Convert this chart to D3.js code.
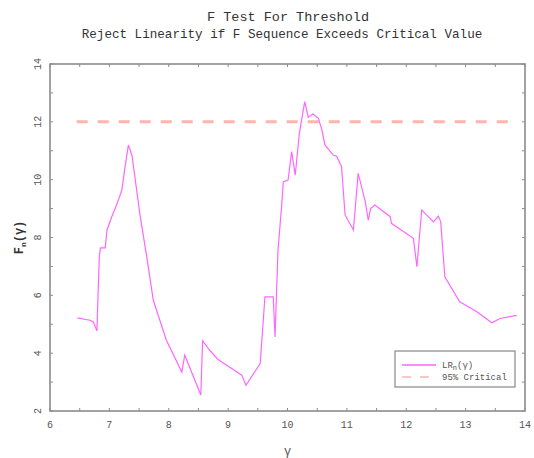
<!DOCTYPE html>
<html><head><meta charset="utf-8">
<script src="https://cdn.jsdelivr.net/npm/d3@7"></script>
<style>body{margin:0;background:#fff}svg{display:block}</style>
</head><body>
<script>
const gammaVals = [6.46,6.67,6.73,6.79,6.83,6.85,6.93,6.96,7.04,7.12,7.21,7.26,7.32,7.38,7.52,7.63,7.74,7.96,8.22,8.27,8.54,8.57,8.69,8.83,9.23,9.30,9.54,9.62,9.76,9.79,9.84,9.90,9.93,10.01,10.07,10.13,10.20,10.29,10.35,10.43,10.52,10.58,10.63,10.77,10.83,10.91,10.97,11.11,11.19,11.31,11.36,11.40,11.47,11.73,11.75,12.12,12.18,12.26,12.46,12.54,12.58,12.65,12.90,13.19,13.44,13.58,13.86];
const fVals =     [5.22,5.14,5.08,4.77,7.33,7.64,7.64,8.26,8.72,9.12,9.64,10.39,11.20,10.85,8.72,7.33,5.83,4.45,3.35,3.93,2.55,4.43,4.10,3.78,3.24,2.89,3.64,5.95,5.95,4.56,7.56,9.06,9.93,9.99,10.97,10.16,11.60,12.70,12.16,12.27,12.12,11.72,11.20,10.85,10.80,10.45,8.78,8.26,10.22,9.24,8.60,9.00,9.12,8.72,8.49,7.97,6.99,8.95,8.54,8.74,8.55,6.64,5.78,5.43,5.05,5.20,5.31];
const critStart = 6.45, critEnd = 13.87, critValue = 12.0;
const xTicks = [6,7,8,9,10,11,12,13,14];
const yTicks = [2,4,6,8,10,12,14];

const W = 534, H = 458;
const L = 50, R = 525, T = 64, B = 411;
const svg = d3.select("body").append("svg").attr("width", W).attr("height", H);
const x = d3.scaleLinear().domain([6,14]).range([L,R]);
const y = d3.scaleLinear().domain([2,14]).range([B,T]);
const font = "'Liberation Mono', 'DejaVu Sans Mono', monospace";
const axisCol = "#8c8c8c";

const xMinor = d3.range(6.5, 14, 1);
const yMinor = d3.range(3, 14, 2);
const tg = svg.append("g").attr("stroke", axisCol).attr("stroke-width", 1);
xTicks.concat(xMinor).forEach(v => {
  tg.append("line").attr("x1", x(v)).attr("x2", x(v)).attr("y1", B).attr("y2", B - 3);
  tg.append("line").attr("x1", x(v)).attr("x2", x(v)).attr("y1", T).attr("y2", T + 3);
});
yTicks.concat(yMinor).forEach(v => {
  tg.append("line").attr("y1", y(v)).attr("y2", y(v)).attr("x1", L).attr("x2", L + 3);
  tg.append("line").attr("y1", y(v)).attr("y2", y(v)).attr("x1", R).attr("x2", R - 3);
});

svg.append("rect").attr("x", L).attr("y", T).attr("width", R - L).attr("height", B - T)
  .attr("fill", "none").attr("stroke", axisCol).attr("stroke-width", 1.6);

svg.append("g").selectAll("text").data(xTicks).join("text")
  .attr("x", d => x(d)).attr("y", B + 17).attr("text-anchor", "middle")
  .attr("font-family", font).attr("font-size", 10).attr("fill", "#555").text(d => d);
svg.append("g").selectAll("text").data(yTicks).join("text")
  .attr("transform", d => `translate(${L - 9},${y(d)}) rotate(-90)`)
  .attr("text-anchor", "middle").attr("font-family", font).attr("font-size", 10).attr("fill", "#555").text(d => d);

svg.append("line").attr("x1", x(critStart)).attr("x2", x(critEnd)).attr("y1", y(critValue)).attr("y2", y(critValue))
  .attr("stroke", "#ffb4ae").attr("stroke-width", 3).attr("stroke-dasharray", "11,10");

const pts = gammaVals.map((g, i) => [g, fVals[i]]);
svg.append("path").datum(pts)
  .attr("d", d3.line().x(d => x(d[0])).y(d => y(d[1])))
  .attr("fill", "none").attr("stroke", "#ff66ff").attr("stroke-width", 1.2);

svg.append("text").attr("x", 288).attr("y", 21).attr("text-anchor", "middle")
  .attr("font-family", font).attr("font-size", 13.5).attr("fill", "#333").text("F Test For Threshold");
svg.append("text").attr("x", 282).attr("y", 38).attr("text-anchor", "middle")
  .attr("font-family", font).attr("font-size", 12.6).attr("fill", "#333").text("Reject Linearity if F Sequence Exceeds Critical Value");

const yl = svg.append("text").attr("transform", `translate(23,${y(8)}) rotate(-90)`).attr("text-anchor", "middle")
  .attr("font-family", font).attr("font-size", 12).attr("font-weight", "bold").attr("fill", "#333");
yl.append("tspan").text("F");
yl.append("tspan").attr("font-size", 8).attr("dy", 3).text("n");
yl.append("tspan").attr("dy", -3).text("(γ)");
svg.append("text").attr("x", x(10)).attr("y", 455).attr("text-anchor", "middle")
  .attr("font-family", font).attr("font-size", 12).attr("fill", "#555").text("γ");

const lg = svg.append("g");
lg.append("rect").attr("x", 395).attr("y", 351).attr("width", 120).attr("height", 36)
  .attr("fill", "#fff").attr("stroke", "#888").attr("stroke-width", 1.2);
lg.append("line").attr("x1", 402).attr("x2", 436).attr("y1", 365).attr("y2", 365)
  .attr("stroke", "#ff66ff").attr("stroke-width", 1.6);
lg.append("line").attr("x1", 402).attr("x2", 436).attr("y1", 377).attr("y2", 377)
  .attr("stroke", "#ffb4ae").attr("stroke-width", 1.6).attr("stroke-dasharray", "9,9");
const lt = lg.append("text").attr("x", 442).attr("y", 368).attr("font-family", font).attr("font-size", 9).attr("fill", "#555");
lt.append("tspan").text("LR");
lt.append("tspan").attr("font-size", 7).attr("dy", 2).text("n");
lt.append("tspan").attr("dy", -2).text("(γ)");
lg.append("text").attr("x", 442).attr("y", 380).attr("font-family", font).attr("font-size", 9).attr("fill", "#555").text("95% Critical");
</script>
</body></html>
